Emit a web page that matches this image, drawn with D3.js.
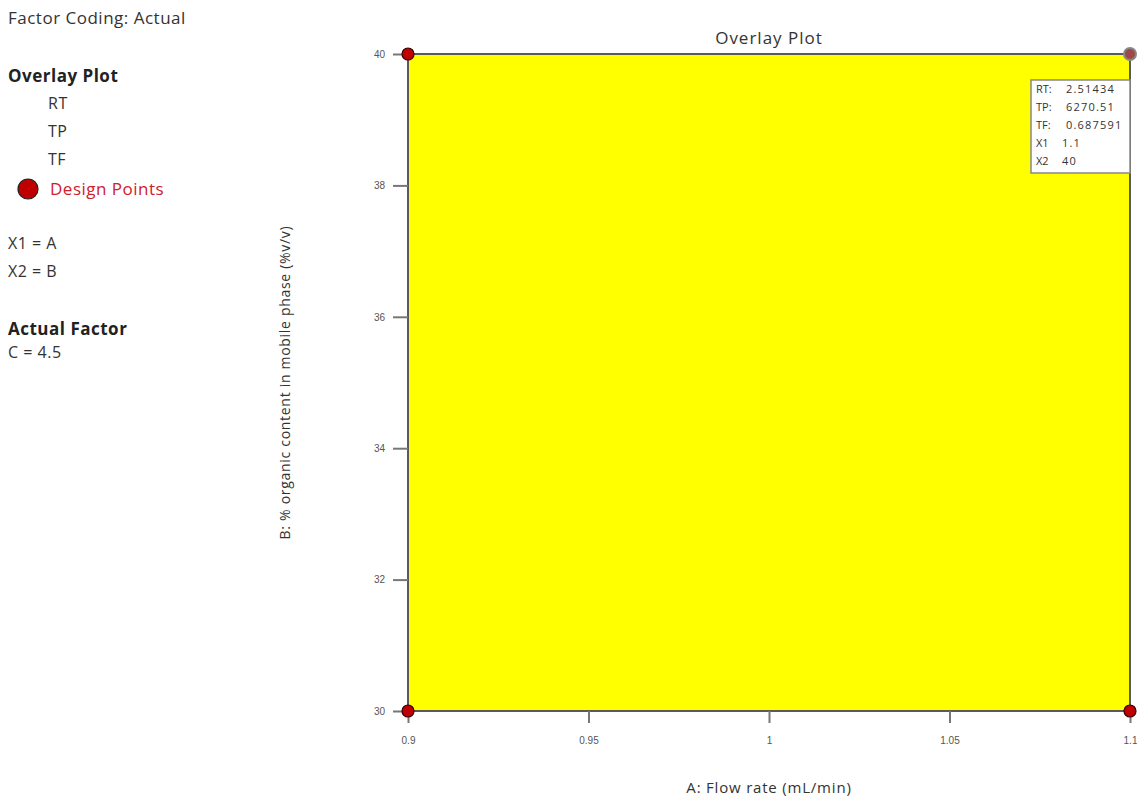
<!DOCTYPE html>
<html>
<head>
<meta charset="utf-8">
<script src="https://cdn.jsdelivr.net/npm/d3@7"></script>
<style>
  body { margin: 0; background: #fff; }
  svg { font-family: "Open Sans", "Noto Sans", sans-serif; }
</style>
</head>
<body>
<script>
// design points (A: flow rate, B: organic content)
let flowRate = [0.9, 0.9, 1.1, 1.1]
let organic = [30, 40, 30, 40]
let xTicks = [0.9, 0.95, 1, 1.05, 1.1]
let yTicks = [30, 32, 34, 36, 38, 40]
let tooltipLines = [['RT:', '2.51434'], ['TP:', '6270.51'], ['TF:', '0.687591'], ['X1', '1.1'], ['X2', '40']]
let legendResponses = ['RT', 'TP', 'TF']

let W = 1137, H = 797
let plot = { left: 408, top: 54, right: 1130, bottom: 711 }

let svg = d3.select('body').append('svg')
  .attr('width', W)
  .attr('height', H)

let x = d3.scaleLinear()
  .domain([0.9, 1.1])
  .range([plot.left, plot.right])

let y = d3.scaleLinear()
  .domain([30, 40])
  .range([plot.bottom, plot.top])

// feasible region: whole design space
svg.append('rect')
  .attr('x', x(0.9))
  .attr('y', y(40))
  .attr('width', x(1.1) - x(0.9))
  .attr('height', y(30) - y(40))
  .attr('fill', '#ffff00')
  .attr('stroke', '#5a5a5a')
  .attr('stroke-width', 2)

let axisY = svg.append('g')
  .attr('transform', 'translate(' + plot.left + ',0)')
  .call(d3.axisLeft(y).tickValues(yTicks).tickSize(15).tickPadding(8).tickFormat(d3.format('d')))
let axisX = svg.append('g')
  .attr('transform', 'translate(0,' + plot.bottom + ')')
  .call(d3.axisBottom(x).tickValues(xTicks).tickSize(12).tickPadding(14).tickFormat((d) => String(+d.toFixed(2))))

;[axisX, axisY].forEach((a) => {
  a.select('.domain').remove()
  a.selectAll('line').attr('stroke', '#777').attr('stroke-width', 2)
  a.selectAll('text').attr('fill', '#555').attr('font-size', 10)
})

// titles
svg.append('text')
  .attr('x', x(1)).attr('y', 44)
  .attr('text-anchor', 'middle')
  .attr('font-size', 17).attr('letter-spacing', 1).attr('fill', '#333')
  .text('Overlay Plot')

svg.append('text')
  .attr('x', x(1)).attr('y', 793)
  .attr('text-anchor', 'middle')
  .attr('font-size', 15).attr('letter-spacing', 0.8).attr('fill', '#333')
  .text('A: Flow rate (mL/min)')

svg.append('text')
  .attr('transform', 'translate(290,' + ((plot.top + plot.bottom) / 2 + 0) + ') rotate(-90)')
  .attr('text-anchor', 'middle')
  .attr('font-size', 14).attr('letter-spacing', 0.7).attr('fill', '#333')
  .text('B: % organic content in mobile phase (%v/v)')

// design points
svg.append('g').selectAll('circle')
  .data(flowRate.map((d, i) => ({ a: d, b: organic[i] })))
  .enter().append('circle')
  .attr('cx', (d) => x(d.a))
  .attr('cy', (d) => y(d.b))
  .attr('r', 6)
  .attr('fill', (d, i) => i === 3 ? '#a04848' : '#c00000')
  .attr('stroke', (d, i) => i === 3 ? '#888' : '#3a0000')
  .attr('stroke-width', (d, i) => i === 3 ? 2 : 1.2)

// flag tooltip
let tip = svg.append('g').attr('transform', 'translate(1031,80)')
tip.append('rect')
  .attr('width', 99).attr('height', 93)
  .attr('fill', '#fff')
  .attr('stroke', '#888').attr('stroke-width', 1.5)
tip.selectAll('text.k')
  .data(tooltipLines)
  .enter().append('text')
  .attr('x', 5).attr('y', (d, i) => 13 + i * 18)
  .attr('font-size', 11).attr('fill', '#333')
  .text((d) => d[0])
tip.selectAll('text.v')
  .data(tooltipLines)
  .enter().append('text')
  .attr('x', (d, i) => i < 3 ? 35 : 31).attr('y', (d, i) => 13 + i * 18)
  .attr('font-size', 11).attr('letter-spacing', 1.2).attr('fill', '#333')
  .text((d) => d[1])

// left legend
let legend = svg.append('g').attr('letter-spacing', 0.5)
legend.append('text').attr('x', 8).attr('y', 24).attr('font-size', 17).attr('fill', '#333')
  .text('Factor Coding: Actual')
legend.append('text').attr('x', 8).attr('y', 82).attr('font-size', 17).attr('font-weight', 'bold').attr('fill', '#222')
  .text('Overlay Plot')
legend.selectAll('text.resp')
  .data(legendResponses)
  .enter().append('text')
  .attr('x', 48).attr('y', (d, i) => 109 + i * 28)
  .attr('font-size', 16).attr('fill', '#333')
  .text((d) => d)
legend.append('circle').attr('cx', 28).attr('cy', 189).attr('r', 10)
  .attr('fill', '#c00000').attr('stroke', '#222').attr('stroke-width', 1.2)
legend.append('text').attr('x', 50).attr('y', 195).attr('font-size', 17).attr('fill', '#d0202a')
  .text('Design Points')
legend.append('text').attr('x', 8).attr('y', 249).attr('font-size', 16).attr('fill', '#333').text('X1 = A')
legend.append('text').attr('x', 8).attr('y', 277).attr('font-size', 16).attr('fill', '#333').text('X2 = B')
legend.append('text').attr('x', 8).attr('y', 335).attr('font-size', 17).attr('font-weight', 'bold').attr('fill', '#222')
  .text('Actual Factor')
legend.append('text').attr('x', 8).attr('y', 358).attr('font-size', 16).attr('fill', '#333').text('C = 4.5')
</script>
</body>
</html>
